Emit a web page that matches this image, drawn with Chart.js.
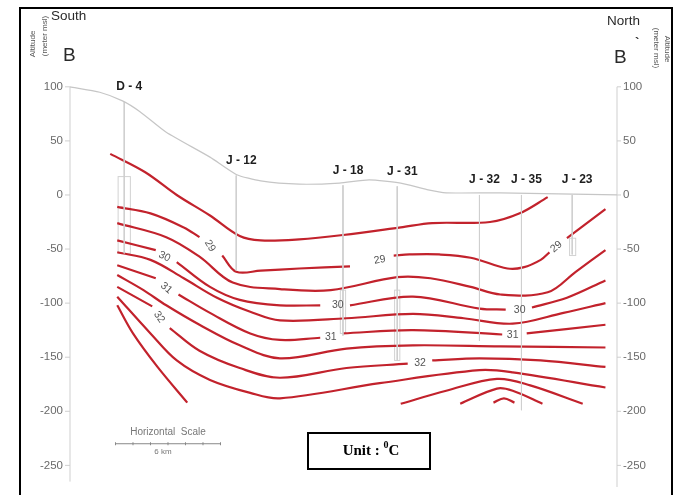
<!DOCTYPE html>
<html>
<head>
<meta charset="utf-8">
<script src="https://cdn.jsdelivr.net/npm/chart.js@4.4.1/dist/chart.umd.min.js"></script>
<style>
  html, body { margin: 0; padding: 0; background: #fff; }
  #wrap { width: 674px; height: 495px; }
</style>
</head>
<body>
<div id="wrap"><canvas id="section" width="674" height="495"></canvas></div>
<script>
// distance along section B - B` in km, altitude in m msl
const altTicks = [100, 50, 0, -50, -100, -150, -200, -250];

const groundSurface = [[0,100],[1.7,95],[3.0,87],[4.0,77],[5.5,58],[8.0,35],[9.5,19],[10.9,13],[13.1,10],[15.4,11],[17.1,14],[18.9,11],[20.4,5],[21.5,2],[24.6,2],[31.26,0]];

const wellNames  = ['D-4', 'J-12', 'J-18', 'J-31', 'J-32', 'J-35', 'J-23'];
const wellKm     = [3.1, 9.5, 15.6, 18.7, 23.4, 25.8, 28.7];
const wellTop    = [86, 18, 9, 8, 0, 0, 0];
const wellBottom = [-54, -70, -130, -153, -135, -199, -55];

// isotherms, temperature in °C; a null altitude leaves the gap for the label
const iso285 = [[2.3,38],[4.3,21],[6.1,0],[8.0,-19],[9.7,-38],[10.9,-42],[13.1,-41],[15.6,-37],[18.9,-30],[20.7,-26],[24.0,-25],[25.7,-17],[27.3,-2]];
const iso29  = [[2.7,-11],[4.6,-17],[6.5,-30],[7.4,-39],[8.0,null],[8.7,-56],[9.5,-71],[10.9,-70],[13.1,-68],[16.0,-66],[17.7,null],[18.5,-56],[19.4,-55],[21.1,-55],[22.9,-58],[25.0,-68],[25.9,-67],[26.9,-60],[27.4,-53],[27.8,null],[28.4,-40],[30.6,-13]];
const iso295 = [[2.7,-26],[5.5,-39],[7.4,-57],[9.3,-81],[12.0,-87],[14.9,-88],[18.7,-76],[20.6,-77],[22.9,-85],[24.6,-92],[27.3,-90],[28.9,-71],[30.6,-51]];
const iso30  = [[2.7,-42],[4.9,-51],[5.4,null],[6.1,-62],[8.0,-85],[9.7,-97],[12.0,-102],[14.3,-102],[15.3,null],[16.0,-102],[19.6,-94],[23.4,-105],[24.9,-106],[25.7,null],[26.4,-104],[28.4,-95],[30.6,-79]];
const iso305 = [[2.7,-53],[4.6,-60],[6.5,-77],[8.4,-95],[10.3,-108],[12.0,-116],[15.8,-114],[19.6,-110],[22.5,-114],[25.3,-119],[28.2,-109],[30.6,-100]];
const iso31  = [[2.7,-65],[4.9,-77],[5.5,null],[6.2,-92],[8.0,-109],[10.3,-128],[12.0,-134],[14.3,-132],[14.9,null],[15.6,-128],[19.6,-125],[24.7,-129],[25.3,null],[26.1,-128],[30.6,-120]];
const iso315 = [[2.7,-74],[4.2,-88],[5.5,-102],[7.4,-120],[9.7,-139],[12.0,-151],[15.8,-142],[19.6,-139],[24.6,-140],[30.6,-141]];
const iso32  = [[2.7,-85],[4.7,-103],[5.1,null],[5.7,-123],[7.4,-144],[9.7,-160],[12.0,-169],[15.8,-160],[19.3,-156],[20.0,null],[20.7,-153],[23.4,-151],[26.9,-153],[30.6,-159]];
const iso325 = [[2.7,-94],[4.6,-128],[6.1,-153],[8.0,-171],[10.3,-183],[12.0,-188],[17.7,-174],[23.4,-162],[25.3,-164],[30.6,-178]];
const iso33w = [[2.7,-102],[3.6,-128],[5.0,-159],[6.7,-192]];
const iso33  = [[18.9,-193],[21.5,-181],[24.4,-170],[26.3,-176],[29.3,-193]];
const iso335 = [[22.3,-193],[24.4,-179],[25.3,-181],[27.0,-193]];
const iso34  = [[24.2,-192],[24.8,-188],[25.4,-192]];

const isoLabelText = ['29', '30', '31', '32', '29', '30', '31', '32', '30', '31', '29'];
const isoLabelKm   = [8.0, 5.4, 5.5, 5.1, 17.7, 15.3, 14.9, 20.0, 25.7, 25.3, 27.8];
const isoLabelAlt  = [-47, -57, -86, -113, -60, -102, -131, -155, -106, -130, -48];
const isoLabelTilt = [60, 25, 40, 55, -10, 0, 0, 0, 0, 0, -40];

function toPoints(arr) {
    return arr.map(p => ({ x: p[0], y: p[1] }));
}

const isoLines = [iso285, iso29, iso295, iso30, iso305, iso31, iso315, iso32, iso325, iso33w, iso33, iso335, iso34];

const datasets = [];
datasets.push({
    label: 'Ground surface',
    data: toPoints(groundSurface),
    borderColor: '#c6c6c6',
    borderWidth: 1.2,
    tension: 0.2
});
wellNames.forEach((name, i) => {
    datasets.push({
        label: name,
        data: [{ x: wellKm[i], y: wellTop[i] }, { x: wellKm[i], y: wellBottom[i] }],
        borderColor: '#cfcfcf',
        borderWidth: 1,
        tension: 0
    });
});
isoLines.forEach((line, i) => {
    datasets.push({
        label: 'isotherm ' + i,
        data: toPoints(line),
        borderColor: '#c2222c',
        borderWidth: 2.2,
        tension: 0.35,
        spanGaps: false
    });
});

// frame, axes, well names, labels and legend boxes
const sectionDecor = {
    id: 'sectionDecor',
    beforeDatasetsDraw(chart) {
        const { ctx } = chart;
        const x = chart.scales.x, y = chart.scales.y;
        const xl = x.getPixelForValue(0), xr = x.getPixelForValue(31.26);
        ctx.save();
        ctx.strokeStyle = '#cfcfcf';
        ctx.lineWidth = 1;
        ctx.beginPath();
        ctx.moveTo(xl, y.getPixelForValue(100));
        ctx.lineTo(xl, y.getPixelForValue(-265));
        ctx.moveTo(xr, y.getPixelForValue(100));
        ctx.lineTo(xr, y.getPixelForValue(-270));
        ctx.stroke();

        ctx.font = '11.5px Arial, "Liberation Sans"';
        ctx.fillStyle = '#6a6a6a';
        ctx.textBaseline = 'middle';
        altTicks.forEach(t => {
            const py = y.getPixelForValue(t);
            ctx.beginPath();
            ctx.moveTo(xl - 5, py); ctx.lineTo(xl, py);
            ctx.moveTo(xr, py); ctx.lineTo(xr + 4, py);
            ctx.stroke();
            ctx.textAlign = 'right';
            ctx.fillText(String(t), xl - 7, py);
            ctx.textAlign = 'left';
            ctx.fillText(String(t), xr + 6, py);
        });

        // well screens
        ctx.strokeStyle = '#d2d2d2';
        const screen = (k0, k1, a0, a1) => {
            const x0 = x.getPixelForValue(k0), x1 = x.getPixelForValue(k1);
            const y0 = y.getPixelForValue(a0), y1 = y.getPixelForValue(a1);
            ctx.strokeRect(x0, y0, x1 - x0, y1 - y0);
        };
        screen(2.75, 3.45, 17, -54);
        screen(15.45, 15.75, -88, -128);
        screen(18.55, 18.85, -88, -153);
        screen(28.55, 28.9, -40, -56);

        // horizontal scale bar, 6 km
        const sx0 = x.getPixelForValue(2.6), sx1 = x.getPixelForValue(8.6);
        const sy = y.getPixelForValue(-230);
        ctx.strokeStyle = '#888';
        ctx.beginPath();
        ctx.moveTo(sx0, sy); ctx.lineTo(sx1, sy);
        for (let k = 0; k <= 6; k++) {
            const px = x.getPixelForValue(2.6 + k);
            ctx.moveTo(px, sy - 1.5); ctx.lineTo(px, sy + 1.5);
        }
        ctx.stroke();
        ctx.fillStyle = '#777';
        ctx.font = '10px Arial, "Liberation Sans"';
        ctx.textAlign = 'center';
        ctx.fillText('Horizontal  Scale', (sx0 + sx1) / 2 + 0, sy - 11);
        ctx.font = '8px Arial, "Liberation Sans"';
        ctx.fillText('6 km', (sx0 + sx1) / 2 - 5, sy + 8);
        ctx.restore();
    },
    afterDatasetsDraw(chart) {
        const { ctx } = chart;
        const x = chart.scales.x, y = chart.scales.y;
        ctx.save();

        // isotherm values
        ctx.font = '10.5px Arial, "Liberation Sans"';
        ctx.fillStyle = '#555';
        ctx.textAlign = 'center';
        ctx.textBaseline = 'middle';
        isoLabelText.forEach((t, i) => {
            ctx.save();
            ctx.translate(x.getPixelForValue(isoLabelKm[i]), y.getPixelForValue(isoLabelAlt[i]));
            ctx.rotate(isoLabelTilt[i] * Math.PI / 180);
            ctx.fillText(t, 0, 0);
            ctx.restore();
        });

        // well names, dash spaced out as in the drawing
        ctx.font = 'bold 12px Arial, "Liberation Sans"';
        ctx.fillStyle = '#1e1e1e';
        wellNames.forEach((name, i) => {
            const px = x.getPixelForValue(wellKm[i]);
            const py = y.getPixelForValue(wellTop[i]);
            ctx.fillText(name.replace('-', ' - '), px + 5, py - 15);
        });

        // section ends
        ctx.fillStyle = '#2a2a2a';
        ctx.font = '13.5px Arial, "Liberation Sans"';
        ctx.textAlign = 'left';
        ctx.fillText('South', 51, 16);
        ctx.fillText('North', 607, 21);
        ctx.font = '19px Arial, "Liberation Sans"';
        ctx.fillText('B', 63, 56);
        ctx.fillText('B', 614, 58);
        ctx.font = 'bold 13px Arial, "Liberation Sans"';
        ctx.fillText('`', 635, 43);

        // axis titles
        ctx.fillStyle = '#555';
        ctx.font = '8px Arial, "Liberation Sans"';
        ctx.textAlign = 'center';
        ctx.save();
        ctx.translate(33, 44); ctx.rotate(-Math.PI / 2);
        ctx.fillText('Altitude', 0, 0);
        ctx.restore();
        ctx.save();
        ctx.translate(45, 36); ctx.rotate(-Math.PI / 2);
        ctx.fillText('(meter msl)', 0, 0);
        ctx.restore();
        ctx.save();
        ctx.translate(667, 49); ctx.rotate(Math.PI / 2);
        ctx.fillText('Altitude', 0, 0);
        ctx.restore();
        ctx.save();
        ctx.translate(656, 48); ctx.rotate(Math.PI / 2);
        ctx.fillText('(meter msl)', 0, 0);
        ctx.restore();

        // unit box
        ctx.strokeStyle = '#000';
        ctx.lineWidth = 2;
        ctx.strokeRect(308, 433, 122, 36);
        ctx.fillStyle = '#000';
        ctx.textAlign = 'left';
        const big = 'bold 15px "Liberation Serif", "Times New Roman", serif';
        const small = 'bold 10px "Liberation Serif", serif';
        ctx.font = big;
        const w1 = ctx.measureText('Unit : ').width;
        const w3 = ctx.measureText('C').width;
        ctx.font = small;
        const w2 = ctx.measureText('0').width;
        const tx = 371 - (w1 + w2 + w3) / 2;
        ctx.font = big;
        ctx.fillText('Unit : ', tx, 451);
        ctx.fillText('C', tx + w1 + w2, 451);
        ctx.font = small;
        ctx.fillText('0', tx + w1, 445);

        // outer frame
        ctx.lineWidth = 2;
        ctx.strokeRect(20, 8, 652, 492);
        ctx.restore();
    }
};

new Chart(document.getElementById('section'), {
    type: 'scatter',
    data: { datasets: datasets },
    options: {
        responsive: false,
        animation: false,
        showLine: true,
        layout: { padding: { left: 70, right: 57, top: 76, bottom: 8 } },
        elements: { point: { radius: 0, hoverRadius: 0 } },
        scales: {
            x: { type: 'linear', min: 0, max: 31.26, display: false },
            y: { type: 'linear', min: -270, max: 110, display: false }
        },
        plugins: {
            legend: { display: false },
            tooltip: { enabled: false }
        }
    },
    plugins: [sectionDecor]
});
</script>
</body>
</html>
